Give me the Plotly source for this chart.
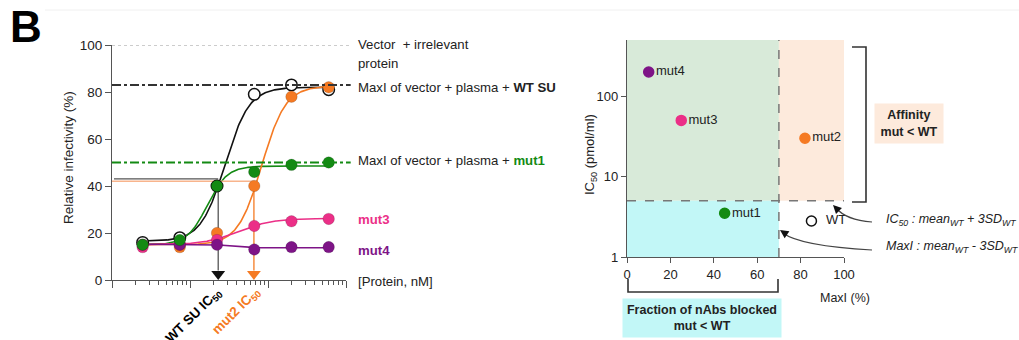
import numpy as np
import plotly.graph_objects as go

W, H = 1019, 340
FONT = "Liberation Sans, Arial, Helvetica, sans-serif"

# ---------------- Left panel data ----------------
protein_nM = [2.47, 7.4, 22.2, 66.7, 200, 600]
inf_wt = [16, 18, 40, 79, 83, 81]
inf_mut1 = [15, 17, 40, 46, 49, 50]
inf_mut2 = [15, 14, 20, 40, 78, 82]
inf_mut3 = [14, 15, 17, 23, 25, 26]
inf_mut4 = [15, 15, 15, 13, 14, 14]

# 4-parameter logistic fits: bottom, top, log10(IC50), hill slope
fit_wt = [16.5, 82, 1.45, 2.8]
fit_mut1 = [15, 48.5, 1.22, 3.4]
fit_mut2 = [15, 82.5, 1.92, 2.85]
fit_mut3 = [15, 26.2, 1.62, 2.0]
fit_mut4 = [15.2, 13.7, 1.5, 4.0]

ref_irrelevant = 100
ref_maxi_wt = 83
ref_maxi_mut1 = 50
wt_ic50_nM, wt_ic50_level = 23, 43
mut2_ic50_nM, mut2_ic50_level = 66, 42

# ---------------- Right panel data ----------------
mut_names = ["mut4", "mut3", "mut2", "mut1", "  WT"]
maxi_pct = [10, 25, 82, 45, 85]
ic50_pmol = [200, 50, 30, 3.5, 2.8]
maxi_threshold = 70
ic50_threshold = 5

C_BLACK = "#111111"
C_GREEN = "#138a13"
C_ORANGE = "#f57a23"
C_PINK = "#eb2f87"
C_PURPLE = "#7e1487"
AX = "#555555"

pt_colors = [C_PURPLE, C_PINK, C_ORANGE, C_GREEN, "white"]
pt_lines = [C_PURPLE, C_PINK, C_ORANGE, C_GREEN, C_BLACK]


def fourpl(p, x):
    b, t, c, h = p
    return b + (t - b) / (1 + 10 ** ((c - np.log10(x)) * h))


def P(px, py):
    return px / W, 1 - py / H


fig = go.Figure()

# fitted curves
xs = np.logspace(np.log10(protein_nM[0]), np.log10(protein_nM[-1]), 300)
for p, col in [(fit_wt, C_BLACK), (fit_mut1, C_GREEN), (fit_mut2, C_ORANGE),
               (fit_mut3, C_PINK), (fit_mut4, C_PURPLE)]:
    fig.add_trace(go.Scatter(x=xs, y=fourpl(p, xs), mode="lines",
                             line=dict(color=col, width=1.6),
                             xaxis="x", yaxis="y", hoverinfo="skip"))

# IC50 guide lines
fig.add_trace(go.Scatter(x=[1.0, mut2_ic50_nM], y=[mut2_ic50_level, mut2_ic50_level],
                         mode="lines", line=dict(color="#f8b48c", width=1.6),
                         xaxis="x", yaxis="y"))
fig.add_trace(go.Scatter(x=[1.06, wt_ic50_nM], y=[wt_ic50_level, wt_ic50_level],
                         mode="lines", line=dict(color="#555555", width=1.3),
                         xaxis="x", yaxis="y"))
fig.add_trace(go.Scatter(x=[wt_ic50_nM, wt_ic50_nM], y=[40, 4], mode="lines",
                         line=dict(color="#555555", width=1.3), xaxis="x", yaxis="y"))
fig.add_trace(go.Scatter(x=[mut2_ic50_nM, mut2_ic50_nM], y=[40, 4], mode="lines",
                         line=dict(color=C_ORANGE, width=1.3), xaxis="x", yaxis="y"))
fig.add_trace(go.Scatter(x=[wt_ic50_nM], y=[2.6], mode="markers",
                         marker=dict(symbol="triangle-down", size=12, color=C_BLACK),
                         xaxis="x", yaxis="y", cliponaxis=False))
fig.add_trace(go.Scatter(x=[mut2_ic50_nM], y=[2.6], mode="markers",
                         marker=dict(symbol="triangle-down", size=12, color=C_ORANGE),
                         xaxis="x", yaxis="y", cliponaxis=False))

# data points
for ys, fill, edge in [(inf_wt, "white", C_BLACK), (inf_mut2, C_ORANGE, C_ORANGE),
                       (inf_mut3, C_PINK, C_PINK), (inf_mut4, C_PURPLE, C_PURPLE),
                       (inf_mut1, C_GREEN, C_GREEN)]:
    fig.add_trace(go.Scatter(x=protein_nM, y=ys, mode="markers",
                             marker=dict(size=11.5, color=fill,
                                         line=dict(color=edge if fill == "white" else "rgba(0,0,0,0.25)",
                                                   width=1.5 if fill == "white" else 0.6)),
                             xaxis="x", yaxis="y", cliponaxis=False))

# right panel points
fig.add_trace(go.Scatter(x=maxi_pct, y=ic50_pmol, mode="markers+text",
                         text=mut_names, textposition="middle right",
                         textfont=dict(size=13, color="#222", family=FONT),
                         marker=dict(size=10, color=pt_colors,
                                     line=dict(color=pt_lines, width=1.5)),
                         xaxis="x2", yaxis="y2", cliponaxis=False))

minor_vals = [m * 10 ** d for d in range(3) for m in range(2, 10)]

fig.update_layout(
    width=W, height=H, margin=dict(l=0, r=0, t=0, b=0, autoexpand=False),
    paper_bgcolor="white", plot_bgcolor="rgba(0,0,0,0)",
    showlegend=False, font=dict(family=FONT, size=13, color="#222"),
    xaxis=dict(type="log", range=[0, 3], domain=[112 / W, 346 / W], anchor="y",
               automargin=False,
               showline=True, linecolor=AX, linewidth=1.2, showgrid=False, zeroline=False,
               ticks="outside", tickvals=[1, 10, 100, 1000], ticklen=7, tickcolor=AX,
               showticklabels=False,
               minor=dict(tickvals=minor_vals, ticks="outside", ticklen=4, tickcolor=AX,
                          showgrid=False)),
    yaxis=dict(range=[0, 100], domain=[(H - 280) / H, (H - 45) / H], anchor="x",
               automargin=False,
               showline=True, linecolor=AX, linewidth=1.2, showgrid=False, zeroline=False,
               ticks="outside", tickvals=[0, 20, 40, 60, 80, 100], ticklen=6, tickcolor=AX,
               tickfont=dict(size=13.5, color="#222")),
    xaxis2=dict(range=[0, 100], domain=[627 / W, 844 / W], anchor="y2",
                automargin=False,
                showline=True, linecolor=AX, linewidth=1.2, showgrid=False, zeroline=False,
                ticks="outside", tickvals=[0, 20, 40, 60, 80, 100], ticklen=5, tickcolor=AX,
                tickfont=dict(size=13, color="#222")),
    yaxis2=dict(type="log", range=[0, np.log10(500)], domain=[(H - 257) / H, (H - 40) / H],
                anchor="x2", automargin=False,
                showline=True, linecolor=AX, linewidth=1.2, showgrid=False,
                zeroline=False, ticks="outside", tickvals=[1, 10, 100], ticktext=["1", "10", "100"],
                ticklen=5, tickcolor=AX, tickfont=dict(size=13, color="#222")),
)

shapes = []
# reference lines on left panel
shapes.append(dict(type="line", xref="x domain", yref="y", x0=0, x1=1.02,
                   y0=ref_irrelevant, y1=ref_irrelevant,
                   line=dict(color="#999", width=1, dash="dot")))
shapes.append(dict(type="line", xref="x domain", yref="y", x0=0, x1=1.02,
                   y0=ref_maxi_wt, y1=ref_maxi_wt,
                   line=dict(color="#333", width=2, dash="dashdot")))
shapes.append(dict(type="line", xref="x domain", yref="y", x0=0, x1=1.02,
                   y0=ref_maxi_mut1, y1=ref_maxi_mut1,
                   line=dict(color=C_GREEN, width=2, dash="dashdot")))

# shaded regions on right panel
shapes.append(dict(type="rect", xref="x2", yref="y2", x0=0, x1=maxi_threshold,
                   y0=ic50_threshold, y1=500, fillcolor="#d8ead9", line=dict(width=0), layer="below"))
shapes.append(dict(type="rect", xref="x2", yref="y2", x0=0, x1=maxi_threshold,
                   y0=1, y1=ic50_threshold, fillcolor="#c2f7f7", line=dict(width=0), layer="below"))
shapes.append(dict(type="rect", xref="x2", yref="y2", x0=maxi_threshold, x1=100,
                   y0=ic50_threshold, y1=500, fillcolor="#fdeadc", line=dict(width=0), layer="below"))
shapes.append(dict(type="line", xref="x2", yref="y2", x0=0, x1=100,
                   y0=ic50_threshold, y1=ic50_threshold,
                   line=dict(color="#777", width=1.5, dash="dash")))
shapes.append(dict(type="line", xref="x2", yref="y2", x0=maxi_threshold, x1=maxi_threshold,
                   y0=1, y1=500, line=dict(color="#777", width=1.5, dash="dash")))


def pline(pts, color="#333", width=1.6):
    path = "M " + " L ".join("%.5f,%.5f" % P(*p) for p in pts)
    return dict(type="path", xref="paper", yref="paper", path=path,
                line=dict(color=color, width=width))


def qcurve(p0, c, p1, color="#444", width=1.2):
    a, b, d = P(*p0), P(*c), P(*p1)
    path = "M %.5f,%.5f Q %.5f,%.5f %.5f,%.5f" % (a + b + d)
    return dict(type="path", xref="paper", yref="paper", path=path,
                line=dict(color=color, width=width))


# brackets
shapes.append(pline([(628, 279), (628, 292), (778, 292), (778, 279)]))
shapes.append(pline([(852, 47), (866, 47), (866, 202), (852, 202)]))
# curved arrows
shapes.append(qcurve((872, 222), (846, 220), (836, 208)))
shapes.append(qcurve((872, 250), (800, 246), (783, 233)))
# faint top rule
shapes.append(dict(type="line", xref="paper", yref="paper", x0=45 / W, x1=1,
                   y0=1 - 10 / H, y1=1 - 10 / H, line=dict(color="#f0f0f0", width=1)))
fig.update_layout(shapes=shapes)

ann = []


def text(px, py, s, size=13, color="#222", xanchor="left", angle=0, **kw):
    x, y = P(px, py)
    d = dict(x=x, y=y, xref="paper", yref="paper", text=s, showarrow=False,
             xanchor=xanchor, yanchor="middle", textangle=angle,
             font=dict(size=size, color=color, family=FONT))
    d.update(kw)
    ann.append(d)


text(8, 27, "<b>B</b>", size=44, color="#000")
text(68, 158, "Relative infectivity (%)", size=13.5, xanchor="center", angle=-90)
text(356, 45, "Vector  + irrelevant", size=13.2)
text(356, 63, "protein", size=13.2)
text(356, 87, "MaxI of vector + plasma + <b>WT SU</b>", size=13.2)
text(356, 160, "MaxI of vector + plasma + <b><span style='color:%s'>mut1</span></b>" % C_GREEN, size=13.2)
text(356, 219, "<b>mut3</b>", color=C_PINK, size=13.2)
text(356, 250, "<b>mut4</b>", color=C_PURPLE, size=13.2)
text(356, 281, "[Protein, nM]", size=13.2)
text(193, 316, "<b>WT SU IC<sub>50</sub></b>", size=13.5, color="#000", xanchor="center", angle=-45)
text(236, 311, "<b>mut2 IC<sub>50</sub></b>", size=13.5, color=C_ORANGE, xanchor="center", angle=-45)

text(591, 155, "IC<sub>50</sub> (pmol/ml)", size=13, xanchor="center", angle=-90)
text(845, 298, "MaxI (%)", size=12.5, xanchor="center")
text(702, 318, "<b>Fraction of nAbs blocked<br>mut &lt; WT</b>", size=12.5, xanchor="center",
     bgcolor="#c2f7f7", width=156, height=36, align="center")
text(909, 123, "<b>Affinity<br>mut &lt; WT</b>", size=12.5, xanchor="center",
     bgcolor="#fdeadc", width=66, height=37, align="center")
text(884, 220, "<i>IC<sub>50</sub> : mean<sub>WT</sub> + 3SD<sub>WT</sub></i>", size=12.5)
text(884, 247, "<i>MaxI : mean<sub>WT</sub> - 3SD<sub>WT</sub></i>", size=12.5)

# arrowheads for the curved arrows
for tip, tail in [((833, 205), (839, 211)), ((780, 230), (786, 234))]:
    x, y = P(*tip)
    ann.append(dict(x=x, y=y, xref="paper", yref="paper", text="", showarrow=True,
                    ax=tail[0] - tip[0], ay=tail[1] - tip[1], axref="pixel", ayref="pixel",
                    arrowhead=2, arrowsize=1.3, arrowwidth=1.3, arrowcolor="#111"))

fig.update_layout(annotations=ann)
fig.write_html("out.html", config={"displayModeBar": False},
               post_script="document.body.style.margin='0';document.body.style.overflow='hidden';")
